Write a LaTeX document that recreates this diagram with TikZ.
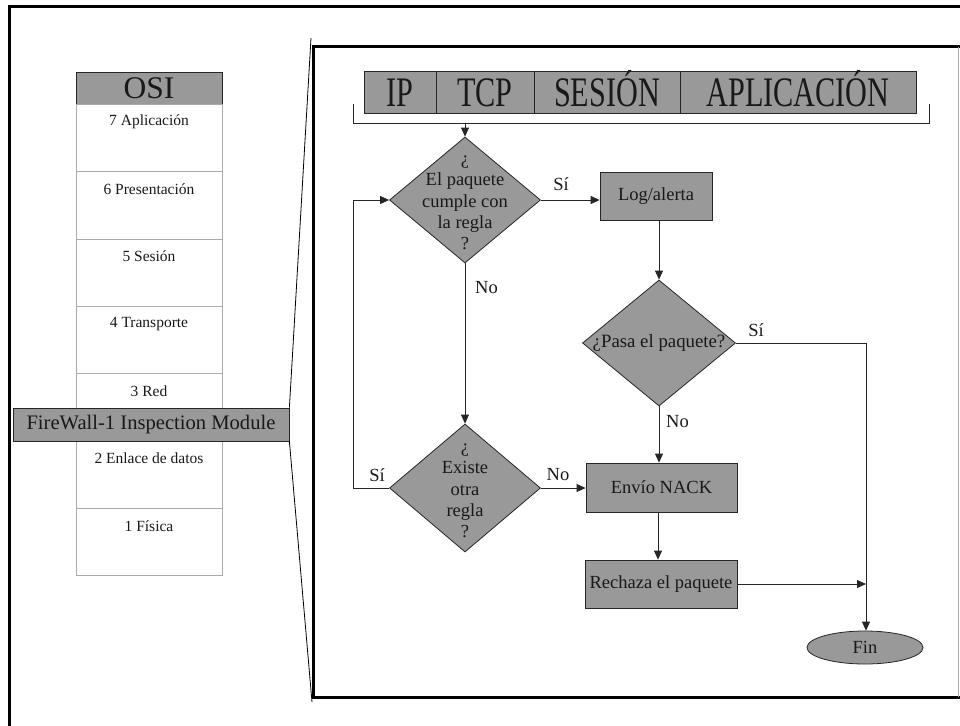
\documentclass[tikz,border=0pt]{standalone}
\usepackage{fontspec}
\setmainfont{Liberation Serif}
\usetikzlibrary{shapes.geometric,arrows.meta}
\definecolor{boxgray}{RGB}{153,153,153}
\definecolor{rowline}{RGB}{170,170,170}
\definecolor{inkdark}{RGB}{25,25,25}
\begin{document}
\begin{tikzpicture}[x=1pt,y=-1pt,
  frame/.style={line width=3pt,black},
  conn/.style={draw=black!85,line width=0.8pt},
  arr/.style={conn,-{Triangle[length=9pt,width=8pt]}},
  gbox/.style={rectangle,fill=boxgray,draw=black!85,line width=0.8pt,inner sep=0pt,
               text=inkdark,font=\fontsize{18.5}{21}\selectfont},
  hcell/.style={gbox,minimum height=42pt,text height=35pt,text depth=7pt,
                font=\fontsize{42}{42}\selectfont},
  osirow/.style={rectangle,draw=rowline,fill=white,line width=0.9pt,
                 minimum width=146pt,minimum height=67.3pt,inner sep=0pt},
  rowtxt/.style={text=inkdark,inner sep=0pt,font=\fontsize{15.5}{18}\selectfont},
  dia/.style={diamond,fill=boxgray,draw=black!85,line width=0.8pt,inner sep=0pt},
  lbl/.style={text=inkdark,inner sep=0pt,font=\fontsize{18.5}{21}\selectfont},
  diatxt/.style={text=inkdark,inner sep=0pt,align=center,font=\fontsize{18.5}{21.3}\selectfont}
]
\useasboundingbox (0,0) rectangle (960,725);

% outer frame (left and top edges)
\draw[frame] (9,726) -- (9,7) -- (961,7);

% inner panel holding the flow chart
\draw[frame] (961,47) -- (313,47) -- (313,697) -- (961,697);
\draw[rowline,line width=1pt] (958.5,47) -- (958.5,697);

% OSI stack
\node[gbox,minimum width=146pt,minimum height=32pt,font=\fontsize{31.5}{32}\selectfont] (osi) at (149,88) {OSI};
\foreach \i/\t [count=\k from 0] in {7/7 Aplicación,6/6 Presentación,5/5 Sesión,4/4 Transporte,3/3 Red,2/2 Enlace de datos,1/1 Física}{
  \node[osirow,anchor=north] (row\i) at (149,104+\k*67.3) {};
  \node[rowtxt] (t\i) at (149,122+\k*67.3) {\t};
}

% inspection module bar across the stack
\node[gbox,minimum width=276pt,minimum height=33pt,font=\fontsize{20.6}{22}\selectfont] (fw) at (151,424.5) {FireWall-1 Inspection Module};

% zoom lines towards the panel
\coordinate (zt) at (311,38);
\coordinate (zb) at (312,702);
\draw[black,line width=0.8pt] (fw.north east) -- (zt);
\draw[black,line width=0.8pt] (fw.south east) -- (zb);

% protocol header bar
\node[hcell,minimum width=72pt]  (hip)  at (400,92)  {\scalebox{0.72}[1]{IP}};
\node[hcell,minimum width=98pt]  (htcp) at (485,92)  {\scalebox{0.72}[1]{TCP}};
\node[hcell,minimum width=146pt] (hses) at (607,92)  {\scalebox{0.72}[1]{SESIÓN}};
\node[hcell,minimum width=236pt] (happ) at (798,92)  {\scalebox{0.72}[1]{APLICACIÓN}};

% bracket under the header
\coordinate (bl) at (353,104);
\coordinate (br) at (929,104);
\coordinate (bm) at (465,123);
\draw[conn] (bl) -- (353,123) -- (929,123) -- (br);

% decisions
\node[dia,minimum width=151pt,minimum height=126pt,
      label={[diatxt,yshift=-3pt]center:{¿\\El paquete\\cumple con\\la regla\\?}}] (d1) at (465,200) {};
\node[dia,minimum width=151pt,minimum height=128pt,
      label={[diatxt,yshift=-3pt]center:{¿\\Existe\\otra\\regla\\?}}] (d2) at (465,488) {};
\node[dia,minimum width=153pt,minimum height=126pt,
      label={[diatxt,font=\fontsize{18.8}{21}\selectfont]center:{¿Pasa el paquete?}}] (d3) at (659,343) {};

% actions
\node[gbox,minimum width=112pt,minimum height=48pt] (log)  at (656,196)   {Log/alerta};
\node[gbox,minimum width=151pt,minimum height=49pt] (nack) at (661.5,487.5) {Envío NACK};
\node[gbox,minimum width=152pt,minimum height=48pt] (rech) at (661,584)   {Rechaza el paquete};
\node[ellipse,fill=boxgray,draw=black!85,line width=0.8pt,inner sep=0pt,
      minimum width=116pt,minimum height=33pt,text=inkdark,
      font=\fontsize{18.5}{21}\selectfont] (fin) at (865,647.5) {Fin};

% connectors
\draw[arr] (bm) -- (d1.north);
\draw[arr] (d1.east) -- (d1.east -| log.west);
\node[lbl] (s1) at (561,184) {Sí};
\draw[arr] (log.south -| d3.north) -- (d3.north);
\draw[arr] (d1.south) -- (d2.north);
\node[lbl,anchor=west] (n1) at (475,288) {No};
\coordinate (lpb) at (353,488);
\coordinate (lpt) at (353,200);
\draw[arr] (d2.west) -- (lpb) -- (lpt) -- (d1.west);
\node[lbl] (s2) at (377,475) {Sí};
\draw[arr] (d2.east) -- (nack.west |- d2.east);
\node[lbl] (n2) at (558,475) {No};
\draw[arr] (d3.south) -- (d3.south |- nack.north);
\node[lbl,anchor=west] (n3) at (666,422) {No};
\coordinate (sr) at (866,343);
\draw[arr] (d3.east) -- (sr) -- (sr |- fin.north);
\node[lbl] (s3) at (756,330) {Sí};
\draw[arr] (nack.south -| 658,0) -- (rech.north -| 658,0);
\coordinate (jn) at (866,584);
\draw[arr] (rech.east) -- (jn);
\end{tikzpicture}
\end{document}
